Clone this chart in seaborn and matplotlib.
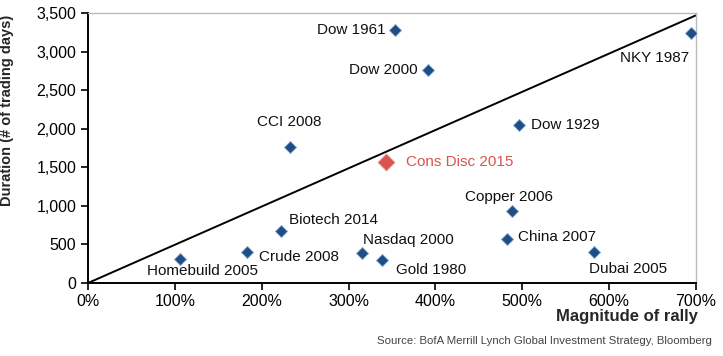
import numpy as np
import pandas as pd
import matplotlib
matplotlib.use("Agg")
import matplotlib.pyplot as plt
import seaborn as sns
from matplotlib.ticker import FuncFormatter

# data
names = ["Homebuild 2005", "Crude 2008", "Biotech 2014", "Nasdaq 2000", "Gold 1980",
         "China 2007", "Copper 2006", "Dubai 2005", "CCI 2008", "Dow 1929",
         "Dow 2000", "Dow 1961", "NKY 1987"]
magnitude = [106, 183, 222, 316, 339, 482, 488, 582, 232, 496, 391, 354, 694]
duration = [310, 400, 670, 390, 300, 570, 930, 400, 1760, 2050, 2760, 3280, 3240]

hi_name = "Cons Disc 2015"
hi_magnitude = [343]
hi_duration = [1570]

line_x = [0, 700]
line_y = [0, 3470]

# label offsets in pixels (dx, dy, ha)
offsets = [(22, -12, "center"), (12, -5, "left"), (8, 11, "left"), (1, 13, "left"),
           (14, -10, "left"), (11, 2, "left"), (-3, 14, "center"), (-5, -17, "left"),
           (0, 25, "center"), (12, 0, "left"), (-10, 0, "right"), (-10, 0, "right"),
           (-2, -25, "right")]

df = pd.DataFrame({"name": names, "magnitude": magnitude, "duration": duration})
df_hi = pd.DataFrame({"name": [hi_name], "magnitude": hi_magnitude, "duration": hi_duration})

sns.set_style("white")
plt.rcParams["font.family"] = ["Liberation Sans", "DejaVu Sans"]

fig = plt.figure(figsize=(7.23, 3.56), dpi=100)
ax = fig.add_axes([0.1217, 0.205, 0.841, 0.7585])

ax.plot(line_x, line_y, color="black", lw=1.4, zorder=1)

sns.scatterplot(data=df, x="magnitude", y="duration", marker="D", s=38,
                color="#1f4e85", edgecolor="#7fa6cf", linewidth=0.6, ax=ax, zorder=3)
sns.scatterplot(data=df_hi, x="magnitude", y="duration", marker="D", s=75,
                color="#d9534f", edgecolor="#e99a97", linewidth=0.6, ax=ax, zorder=3)

px = 72 / fig.dpi
for n, xv, yv, (dx, dy, ha) in zip(names, magnitude, duration, offsets):
    ax.annotate(n, (xv, yv), xytext=(dx * px, dy * px), textcoords="offset points",
                ha=ha, va="center", fontsize=11, color="#111111")
ax.annotate(hi_name, (hi_magnitude[0], hi_duration[0]), xytext=(20 * px, 0),
            textcoords="offset points", ha="left", va="center", fontsize=11,
            color="#d9534f")

ax.set_xlim(0, 700)
ax.set_ylim(0, 3500)
ax.set_xticks(range(0, 701, 100))
ax.set_yticks(range(0, 3501, 500))
ax.xaxis.set_major_formatter(FuncFormatter(lambda v, p: f"{v:.0f}%"))
ax.yaxis.set_major_formatter(FuncFormatter(lambda v, p: f"{v:,.0f}"))
ax.tick_params(axis="both", which="major", direction="out", length=5, width=1.2,
               labelsize=11.5, colors="black", bottom=True, left=True)
ax.tick_params(axis="x", pad=3)
for s in ["left", "bottom"]:
    ax.spines[s].set_color("black")
    ax.spines[s].set_linewidth(1.4)
for s in ["top", "right"]:
    ax.spines[s].set_color("#bbbbbb")
    ax.spines[s].set_linewidth(1.0)
ax.set_xlabel("")
ax.set_ylabel("Duration (# of trading days)", fontsize=10.5, fontweight="bold")
ax.yaxis.set_label_coords(-0.122, 0.64)

fig.text(0.965, 0.112, "Magnitude of rally", ha="right", va="center",
         fontsize=12, fontweight="bold")
fig.text(0.985, 0.042, "Source: BofA Merrill Lynch Global Investment Strategy, Bloomberg",
         ha="right", va="center", fontsize=8.2, color="#444444")

fig.savefig("out.png", dpi=100)
